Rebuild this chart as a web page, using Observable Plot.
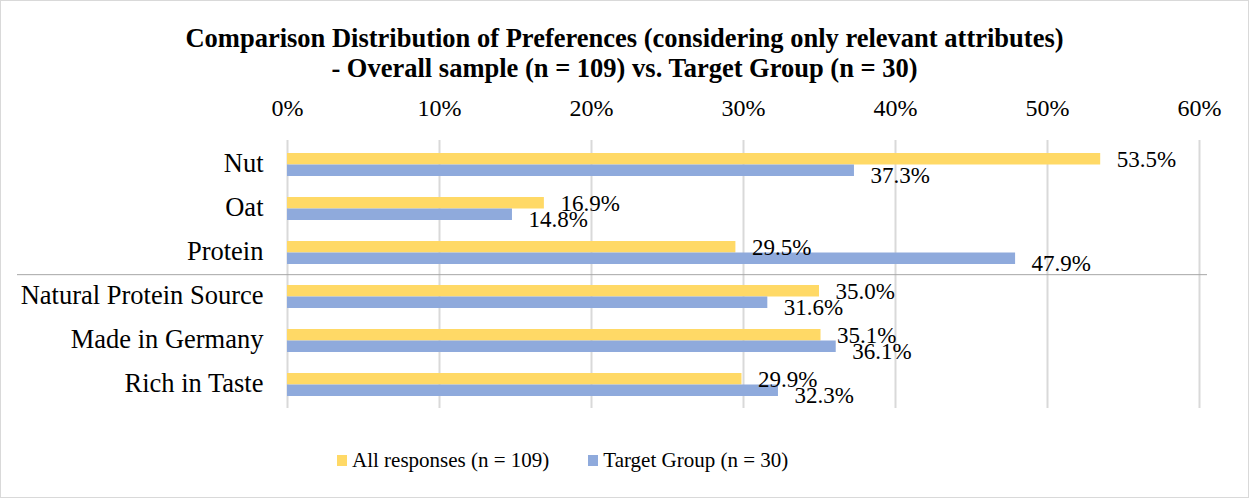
<!DOCTYPE html>
<html>
<head>
<meta charset="utf-8">
<script src="https://cdn.jsdelivr.net/npm/d3@7"></script>
<script src="https://cdn.jsdelivr.net/npm/@observablehq/plot@0.6"></script>
<style>
  html, body { margin: 0; padding: 0; background: #fff; }
  #wrap { position: relative; width: 1249px; height: 498px; background: #fff; font-family: "Liberation Serif", "Times New Roman", serif; color: #000; overflow: hidden; }
  #title { position: absolute; top: 23px; left: 0; width: 1249px; text-align: center; font-weight: bold; font-size: 26.5px; line-height: 30px; }
  #chart { position: absolute; top: 84px; left: 0; }
  #legend { position: absolute; top: 447px; left: 337px; display: flex; align-items: center; font-size: 21px; line-height: 26px; white-space: nowrap; }
  .item { display: flex; align-items: center; margin-right: 39px; }
  .sw { width: 10px; height: 11px; margin-right: 5px; }
  #border { position: absolute; inset: 0; border: 1px solid #d9d9d9; pointer-events: none; }
</style>
</head>
<body>
<div id="wrap">
  <div id="title">Comparison Distribution of Preferences (considering only relevant attributes)<br>- Overall sample (n = 109) vs. Target Group (n = 30)</div>
  <div id="chart"></div>
  <div id="legend"></div>
  <div id="border"></div>
</div>
<script>
const categories = ["Nut", "Oat", "Protein", "Natural Protein Source", "Made in Germany", "Rich in Taste"];
const allResponses = [0.535, 0.169, 0.295, 0.350, 0.351, 0.299];
const targetGroup = [0.373, 0.148, 0.479, 0.316, 0.361, 0.323];
const seriesNames = ["All responses (n = 109)", "Target Group (n = 30)"];
const seriesColors = ["#FFD966", "#8FAADC"];
const xTicks = [0, 0.1, 0.2, 0.3, 0.4, 0.5, 0.6];
const separatorBefore = ["Natural Protein Source"];

const rowsA = categories.map((c, i) => ({category: c, value: allResponses[i], series: seriesNames[0]}));
const rowsB = categories.map((c, i) => ({category: c, value: targetGroup[i], series: seriesNames[1]}));

const pct0 = d3.format(".0%");
const pct1 = d3.format(".1%");
const font = "Liberation Serif";

const chart = Plot.plot({
  width: 1249,
  height: 340,
  marginLeft: 287,
  marginRight: 50,
  marginTop: 56,
  marginBottom: 16,
  style: {fontFamily: font, fontSize: "24px", color: "#000", background: "transparent", overflow: "visible"},
  x: {domain: [0, 0.6], axis: null},
  y: {domain: categories, axis: null, paddingInner: 0.485, paddingOuter: 0.2425},
  marks: [
    Plot.ruleX(xTicks, {x: d => d, stroke: "#d9d9d9", strokeWidth: 2}),
    Plot.ruleY(separatorBefore, {y: d => d, dy: -22.33, stroke: "#a6a6a6", strokeWidth: 1, insetLeft: -270, insetRight: -8}),
    Plot.text(xTicks, {x: d => d, frameAnchor: "top", dy: -42, text: d => pct0(d), fontSize: 24, fill: "#000"}),
    Plot.text(categories, {y: d => d, frameAnchor: "left", textAnchor: "end", dx: -24, dy: -1, text: d => d, fontSize: 26.5, fill: "#000"}),
    Plot.barX(rowsA, {x: "value", y: "category", fill: seriesColors[0], insetBottom: 11.5}),
    Plot.barX(rowsB, {x: "value", y: "category", fill: seriesColors[1], insetTop: 11.5}),
    Plot.text(rowsA, {x: "value", y: "category", text: d => pct1(d.value), textAnchor: "start", dx: 16, dy: -5, fontSize: 23, fill: "#000"}),
    Plot.text(rowsB, {x: "value", y: "category", text: d => pct1(d.value), textAnchor: "start", dx: 16, dy: 11, fontSize: 23, fill: "#000"})
  ]
});
document.getElementById("chart").appendChild(chart);

const legend = document.getElementById("legend");
seriesNames.forEach((name, i) => {
  const item = document.createElement("div");
  item.className = "item";
  const sw = document.createElement("span");
  sw.className = "sw";
  sw.style.background = seriesColors[i];
  const label = document.createElement("span");
  label.textContent = name;
  item.appendChild(sw);
  item.appendChild(label);
  legend.appendChild(item);
});
</script>
</body>
</html>
